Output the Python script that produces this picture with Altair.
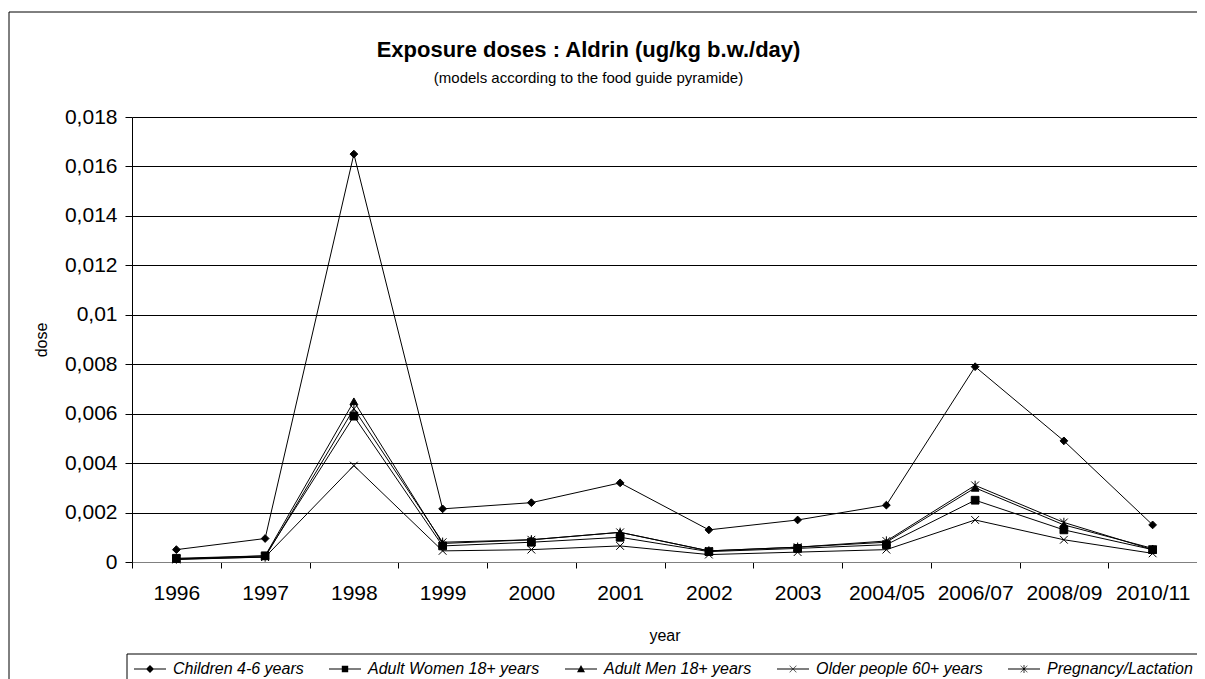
import altair as alt
import pandas as pd

years = ["1996", "1997", "1998", "1999", "2000", "2001", "2002", "2003",
         "2004/05", "2006/07", "2008/09", "2010/11"]
series_names = ["Children 4-6 years", "Adult Women 18+ years", "Adult Men 18+ years",
                "Older people 60+ years", "Pregnancy/Lactation"]
children = [0.0005, 0.00095, 0.0165, 0.00215, 0.0024, 0.0032, 0.0013, 0.0017, 0.0023, 0.0079, 0.0049, 0.0015]
women = [0.00015, 0.00025, 0.0059, 0.00065, 0.0008, 0.001, 0.00042, 0.00055, 0.0007, 0.0025, 0.0013, 0.0005]
men = [0.00012, 0.00025, 0.0065, 0.00075, 0.0009, 0.0012, 0.00045, 0.0006, 0.0008, 0.003, 0.0015, 0.00055]
older = [0.0001, 0.0002, 0.0039, 0.00045, 0.0005, 0.00065, 0.0003, 0.0004, 0.0005, 0.0017, 0.0009, 0.00035]
pregnancy = [0.00012, 0.0002, 0.0062, 0.0008, 0.0009, 0.0012, 0.00045, 0.0006, 0.00085, 0.0031, 0.0016, 0.0005]
y_ticks = [0, 0.002, 0.004, 0.006, 0.008, 0.01, 0.012, 0.014, 0.016, 0.018]

all_series = [children, women, men, older, pregnancy]
rows = []
for name, vals in zip(series_names, all_series):
    for yr, v in zip(years, vals):
        rows.append({"year": yr, "dose": v, "series": name})
df = pd.DataFrame(rows)

point_shapes = [
    "diamond",
    "square",
    "triangle-up",
    "M-1,-1L1,1M-1,1L1,-1",
    "M-1,-1L1,1M-1,1L1,-1M0,-1.2L0,1.2",
]
# legend symbols (filled outlines): a thin horizontal bar with the marker at x=1
LINE = "M-1,-0.06L3,-0.06L3,0.06L-1,0.06Z"
XBARS = "M0.6,-0.45L1.45,0.4L1.4,0.45L0.55,-0.4ZM0.6,0.45L0.55,0.4L1.4,-0.45L1.45,-0.4Z"
legend_shapes = [
    LINE + "M1,-0.5L1.5,0L1,0.5L0.5,0Z",
    LINE + "M0.6,-0.4L1.4,-0.4L1.4,0.4L0.6,0.4Z",
    LINE + "M1,-0.5L1.5,0.4L0.5,0.4Z",
    LINE + XBARS,
    LINE + XBARS + "M0.95,-0.5L1.05,-0.5L1.05,0.5L0.95,0.5Z",
]

W, H = 1065, 445
FONT = "Liberation Sans"

x_enc = alt.X(
    "year:N", sort=years, bandPosition=0.5,
    scale=alt.Scale(type="band", paddingInner=0, paddingOuter=0),
    axis=alt.Axis(title="year", labelAngle=0, tickBand="extent", tickSize=6,
                  labelFontSize=21, labelPadding=14, titleFontSize=16,
                  titlePadding=24, titleFontWeight="normal", grid=False,
                  domainColor="#808080", tickColor="black",
                  labelColor="black", titleColor="black", labelFont=FONT, titleFont=FONT),
)
y_enc = alt.Y(
    "dose:Q",
    scale=alt.Scale(domain=[0, 0.018], nice=False),
    axis=alt.Axis(title="dose", values=y_ticks, format="~g",
                  labelExpr="replace(datum.label, '.', ',')",
                  tickSize=7, labelPadding=8, labelFontSize=21, titleFontSize=16,
                  titleFontWeight="normal", titlePadding=15, grid=True,
                  gridColor="black", gridOpacity=1, gridWidth=1,
                  domainColor="black", tickColor="black",
                  labelColor="black", titleColor="black", labelFont=FONT, titleFont=FONT),
)

base = alt.Chart(df)

lines = base.mark_line(color="black", strokeWidth=1).encode(
    x=x_enc, y=y_enc, detail="series:N"
)

points = base.mark_point(filled=True, color="black", stroke="black", strokeWidth=1, size=60, opacity=1).encode(
    x=x_enc, y=y_enc,
    shape=alt.Shape("series:N", scale=alt.Scale(domain=series_names, range=point_shapes), legend=None),
)

LEG_Y = 537
legend_layer = base.mark_point(filled=True, color="black", opacity=0).encode(
    x=x_enc, y=y_enc,
    shape=alt.Shape(
        "series:N", title=None,
        scale=alt.Scale(domain=series_names, range=legend_shapes),
        legend=alt.Legend(
            orient="none", legendX=-5, legendY=LEG_Y, direction="horizontal", columns=5,
            symbolSize=256, symbolOpacity=1, symbolFillColor="black",
            labelFont=FONT, labelFontSize=16, labelFontStyle="italic",
            labelColor="black", labelOffset=22, labelLimit=400, columnPadding=22,
            padding=6,
        ),
    ),
)

# outer chart frame and legend box: only their left and top edges fall inside the picture
frame_df = pd.DataFrame({"k": [0]})
frame_left = alt.Chart(frame_df).mark_rule(color="black", strokeWidth=1, clip=False).encode(
    x=alt.value(-123), y=alt.value(-105), y2=alt.value(H + 200)
)
frame_top = alt.Chart(frame_df).mark_rule(color="black", strokeWidth=1, clip=False).encode(
    x=alt.value(-123), x2=alt.value(W + 60), y=alt.value(-105)
)
legend_left = alt.Chart(frame_df).mark_rule(color="black", strokeWidth=1, clip=False).encode(
    x=alt.value(-5), y=alt.value(LEG_Y), y2=alt.value(H + 200)
)
legend_top = alt.Chart(frame_df).mark_rule(color="black", strokeWidth=1, clip=False).encode(
    x=alt.value(-5), x2=alt.value(W + 60), y=alt.value(LEG_Y)
)

chart = alt.layer(frame_left, frame_top, legend_left, legend_top, lines, points, legend_layer).resolve_scale(
    shape="independent"
).properties(
    width=W, height=H,
    padding={"left": 124, "top": 109, "right": 0, "bottom": 120},
    autosize=alt.AutoSizeParams(type="none"),
    title=alt.TitleParams(
        text="Exposure doses : Aldrin (ug/kg b.w./day)",
        subtitle="(models according to the food guide pyramide)",
        anchor="middle", frame="group", dx=-76, dy=85,
        font=FONT, fontSize=22, fontWeight="bold", color="black",
        subtitleFont=FONT, subtitleFontSize=15, subtitleColor="black",
        subtitlePadding=9, offset=10,
    ),
).configure_view(stroke="transparent")

chart.save("out.html", embed_options={"renderer": "svg", "actions": False})
